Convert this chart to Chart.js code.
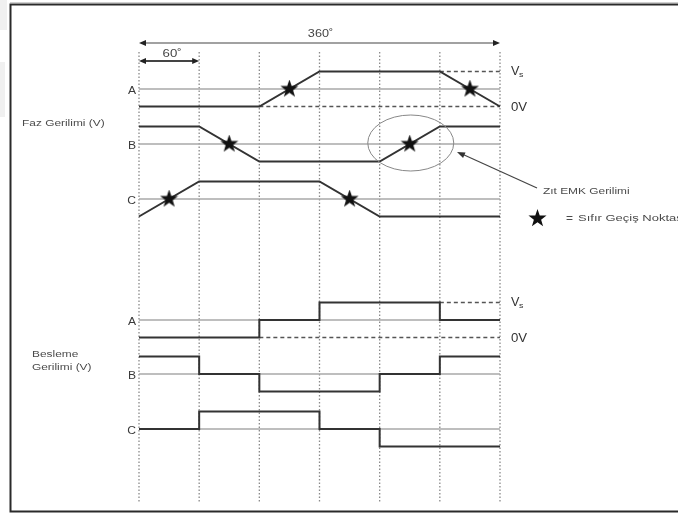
<!DOCTYPE html>
<html><head><meta charset="utf-8">
<script src="https://cdn.jsdelivr.net/npm/chart.js@4"></script>
<style>html,body{margin:0;padding:0;background:#fff}#wrap{width:678px;height:513px;position:relative}</style>
</head><body><div id="wrap"><canvas id="c"></canvas></div>
<script>
// ---- data (angles in electrical degrees, levels: 1 = Vs, 0 = mid, -1 = 0V) ----
const angles = [0, 60, 120, 180, 240, 300, 360];
const gridAngles = [0, 60, 120, 180, 240, 300, 360];
const phaseA = [-1, -1, -1, 1, 1, 1, -1];
const phaseB = [1, 1, -1, -1, -1, 1, 1];
const phaseC = [-1, 1, 1, 1, -1, -1, -1];
const supplyA = [-1, -1, 0, 1, 1, 0, 0];
const supplyB = [1, 0, -1, -1, 0, 1, 1];
const supplyC = [0, 1, 1, 0, -1, -1, -1];
const zeroCrossA = [150, 330];
const zeroCrossB = [90, 270];
const zeroCrossC = [30, 210];
const dashLowA = [120, 360];   // 0V reference span for phase A
const dashHighA = [300, 360];  // Vs reference span for phase A
const phaseNames = ['A', 'B', 'C'];

// ---- layout ----
const W = 678, H = 513;
const PX0 = 139, PX360 = 500;
const k = (PX360 - PX0) / 360;
const xMin = -PX0 / k, xMax = (W - PX0) / k;
const UNIT = 17.5;
const phaseCenters = [89, 144, 199];
const supplyCenters = [320, 374, 429];
const GRID_TOP = 52, GRID_BOT = 503;
const toY = (c, l) => c - l * UNIT;

function starCanvas(size) {
  const c = document.createElement('canvas');
  c.width = c.height = size;
  const g = c.getContext('2d');
  g.fillStyle = '#111';
  g.beginPath();
  for (let i = 0; i < 10; i++) {
    const r = i % 2 ? size * 0.2 : size * 0.5;
    const a = -Math.PI / 2 + i * Math.PI / 5;
    g.lineTo(size / 2 + r * Math.cos(a), size / 2 + r * Math.sin(a));
  }
  g.closePath(); g.fill();
  return c;
}
const STAR = starCanvas(19);

const datasets = [];
gridAngles.forEach(a => datasets.push({
  data: [{x: a, y: GRID_TOP}, {x: a, y: GRID_BOT}],
  borderColor: '#8a8a8a', borderWidth: 1.3, borderDash: [1.5, 2], pointRadius: 0, order: 10
}));
[...phaseCenters, ...supplyCenters].forEach(c => datasets.push({
  data: [{x: 0, y: c}, {x: 360, y: c}],
  borderColor: '#a8a8a8', borderWidth: 1.5, pointRadius: 0, order: 9
}));
[phaseCenters[0], supplyCenters[0]].forEach(c => {
  datasets.push({data: dashLowA.map(a => ({x: a, y: toY(c, -1)})), borderColor: '#555', borderWidth: 1.4, borderDash: [4, 3], pointRadius: 0, order: 8});
  datasets.push({data: dashHighA.map(a => ({x: a, y: toY(c, 1)})), borderColor: '#555', borderWidth: 1.4, borderDash: [4, 3], pointRadius: 0, order: 8});
});
[phaseA, phaseB, phaseC].forEach((s, i) => datasets.push({
  data: angles.map((a, j) => ({x: a, y: toY(phaseCenters[i], s[j])})),
  borderColor: '#333', borderWidth: 2, pointRadius: 0, order: 5
}));
[supplyA, supplyB, supplyC].forEach((s, i) => datasets.push({
  data: angles.map((a, j) => ({x: a, y: toY(supplyCenters[i], s[j])})),
  borderColor: '#333', borderWidth: 2, pointRadius: 0, stepped: 'before', order: 5
}));
[zeroCrossA, zeroCrossB, zeroCrossC].forEach((zs, i) => datasets.push({
  data: zs.map(a => ({x: a, y: phaseCenters[i]})),
  showLine: false, pointStyle: STAR, pointRadius: 9, order: 1
}));

function arrowHead(ctx, x, y, ang, len, wid) {
  ctx.beginPath();
  ctx.moveTo(x, y);
  ctx.lineTo(x - len * Math.cos(ang) + wid * Math.sin(ang), y - len * Math.sin(ang) - wid * Math.cos(ang));
  ctx.lineTo(x - len * Math.cos(ang) - wid * Math.sin(ang), y - len * Math.sin(ang) + wid * Math.cos(ang));
  ctx.closePath(); ctx.fill();
}
// text drawn with a horizontal stretch (the reference lettering is wide)
function wideText(ctx, txt, x, y, size, stretch, align) {
  ctx.save();
  ctx.font = size + 'px "Liberation Sans", Arial';
  ctx.textAlign = align || 'left';
  ctx.translate(x, y); ctx.scale(stretch, 1);
  ctx.fillText(txt, 0, 0);
  ctx.restore();
}

const deco = {
  id: 'deco',
  beforeDraw(chart) {
    const ctx = chart.ctx;
    ctx.save();
    ctx.fillStyle = '#fff'; ctx.fillRect(0, 0, W, H);
    ctx.fillStyle = '#f0f0f0';
    ctx.fillRect(0, 0, 7, 30); ctx.fillRect(0, 62, 5, 55);
    ctx.strokeStyle = '#cfcfcf'; ctx.lineWidth = 1;
    ctx.beginPath(); ctx.moveTo(10, 2.5); ctx.lineTo(W, 2.5); ctx.stroke();
    ctx.strokeStyle = '#2a2a2a'; ctx.lineWidth = 2;
    ctx.beginPath();
    ctx.moveTo(W, 4.5); ctx.lineTo(10.5, 4.5); ctx.lineTo(10.5, 511.5); ctx.lineTo(W, 511.5);
    ctx.stroke();
    ctx.restore();
  },
  afterDraw(chart) {
    const ctx = chart.ctx, xs = chart.scales.x;
    const X = a => xs.getPixelForValue(a);
    ctx.save();
    ctx.textBaseline = 'middle';
    // span arrows
    ctx.strokeStyle = '#444'; ctx.fillStyle = '#222'; ctx.lineWidth = 1.2;
    const yA = 43, yB = 61;
    ctx.beginPath(); ctx.moveTo(X(0) + 4, yA); ctx.lineTo(X(360) - 4, yA); ctx.stroke();
    arrowHead(ctx, X(0), yA, Math.PI, 7, 3); arrowHead(ctx, X(360), yA, 0, 7, 3);
    ctx.lineWidth = 1.8;
    ctx.beginPath(); ctx.moveTo(X(0) + 4, yB); ctx.lineTo(X(60) - 4, yB); ctx.stroke();
    arrowHead(ctx, X(0), yB, Math.PI, 7, 3); arrowHead(ctx, X(60), yB, 0, 7, 3);
    ctx.fillStyle = '#444';
    wideText(ctx, '360˚', X(180) + 1, 34, 11, 1.15, 'center');
    wideText(ctx, '60˚', X(30) + 3, 54, 11, 1.2, 'center');
    // channel letters
    ctx.fillStyle = '#3a3a3a';
    phaseNames.forEach((n, i) => {
      wideText(ctx, n, X(0) - 3, phaseCenters[i] + 2, 11, 1.1, 'right');
      wideText(ctx, n, X(0) - 3, supplyCenters[i] + 2, 11, 1.1, 'right');
    });
    // Vs / 0V labels
    ctx.fillStyle = '#333';
    [phaseCenters[0], supplyCenters[0]].forEach(c => {
      const yh = toY(c, 1), yl = toY(c, -1);
      wideText(ctx, 'V', X(360) + 11, yh, 12, 1.05);
      wideText(ctx, 's', X(360) + 19, yh + 3, 8, 1.1);
      wideText(ctx, '0V', X(360) + 11, yl + 1, 12, 1.1);
    });
    // section titles
    ctx.fillStyle = '#4a4a4a';
    wideText(ctx, 'Faz Gerilimi (V)', 22, 124, 8.5, 1.4);
    wideText(ctx, 'Besleme', 32, 355, 8.5, 1.4);
    wideText(ctx, 'Gerilimi (V)', 32, 368, 8.5, 1.4);
    // ellipse around back-EMF
    ctx.strokeStyle = '#888'; ctx.lineWidth = 1;
    ctx.beginPath(); ctx.ellipse(X(270) + 1, phaseCenters[1] - 1, 43, 28, 0, 0, Math.PI * 2); ctx.stroke();
    // annotation arrow
    ctx.strokeStyle = '#444'; ctx.fillStyle = '#333'; ctx.lineWidth = 1.2;
    ctx.beginPath(); ctx.moveTo(537, 188); ctx.lineTo(462, 154); ctx.stroke();
    arrowHead(ctx, 457, 152, Math.atan2(152 - 188, 457 - 537), 8, 3);
    ctx.fillStyle = '#4a4a4a';
    wideText(ctx, 'Zıt EMK Gerilimi', 543, 192, 8.5, 1.4);
    ctx.drawImage(STAR, 528, 209);
    wideText(ctx, '=', 566, 219, 10, 1.2);
    wideText(ctx, 'Sıfır Geçiş Noktası', 578, 219, 8.5, 1.53);
    ctx.restore();
  }
};

new Chart(document.getElementById('c'), {
  type: 'scatter',
  data: {datasets: datasets.map(d => Object.assign({showLine: true, fill: false, tension: 0}, d))},
  options: {
    responsive: true, maintainAspectRatio: false, animation: false,
    layout: {padding: 0, autoPadding: false},
    plugins: {legend: {display: false}, tooltip: {enabled: false}},
    scales: {
      x: {type: 'linear', min: xMin, max: xMax, display: false},
      y: {type: 'linear', min: 0, max: H, reverse: true, display: false}
    }
  },
  plugins: [deco]
});
</script>
</body></html>
